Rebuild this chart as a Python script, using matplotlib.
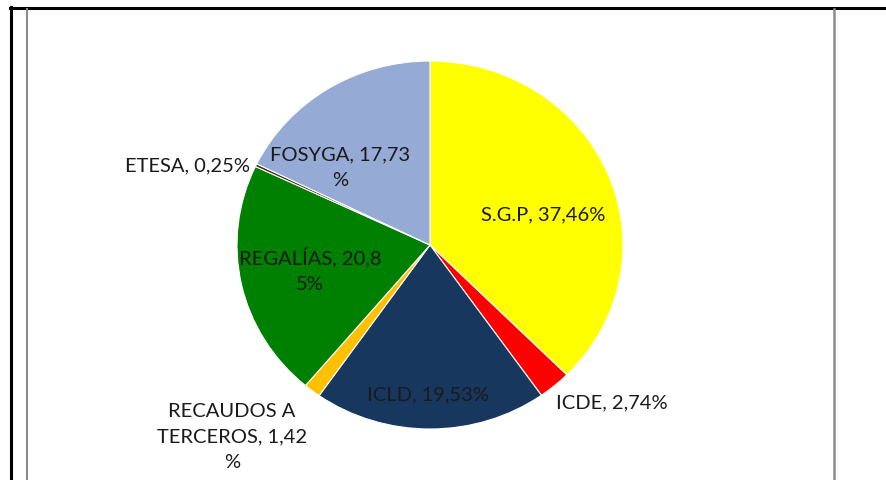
import matplotlib
matplotlib.use("Agg")
import matplotlib.pyplot as plt
from matplotlib.lines import Line2D

categories = ["S.G.P", "ICDE", "ICLD", "RECAUDOS A TERCEROS", "REGALÍAS", "ETESA", "FOSYGA"]
values = [37.46, 2.74, 19.53, 1.42, 20.85, 0.25, 17.73]
label_texts = ["S.G.P, 37,46%", "ICDE, 2,74%", "ICLD, 19,53%",
               "RECAUDOS A\nTERCEROS, 1,42\n%", "REGALÍAS, 20,8\n5%",
               "ETESA, 0,25%", "FOSYGA, 17,73\n%"]
colors = ["#FFFF00", "#FF0000", "#17375E", "#FFC000", "#008000", "#3F2A14", "#95AAD4"]
label_pos = [(0.585, 0.163), (0.943, -0.859), (-0.010, -0.815), (-1.026, -1.043),
             (-0.622, -0.136), (-1.259, 0.429), (-0.466, 0.418)]

W, H = 886, 480
fig = plt.figure(figsize=(W / 100, H / 100), dpi=100)
fig.patch.set_facecolor("white")

cx, cy, rx, ry = 430, 245, 193, 184
ax = fig.add_axes([(cx - rx) / W, (H - cy - ry) / H, 2 * rx / W, 2 * ry / H])
ax.pie(values, colors=colors, startangle=90, counterclock=False, radius=1,
       wedgeprops=dict(edgecolor="white", linewidth=0.8))
ax.set_aspect("auto")
ax.set_xlim(-1, 1)
ax.set_ylim(-1, 1)
ax.axis("off")

for txt, (x, y) in zip(label_texts, label_pos):
    ax.text(x, y, txt, ha="center", va="center", fontsize=14.5, family="Lato",
            color="#1a1a1a", linespacing=1.62, clip_on=False)

def px(x, y):
    return x / W, 1 - y / H

# frame lines
fig.add_artist(Line2D([px(10, 7.5)[0], 1], [px(10, 7.5)[1]] * 2, color="black", lw=2.2))
fig.add_artist(Line2D([px(11, 0)[0]] * 2, [px(0, 7)[1], 0], color="black", lw=2.2))
fig.add_artist(Line2D([px(27, 0)[0]] * 2, [px(0, 9)[1], 0], color="#8c8c8c", lw=1.5))
fig.add_artist(Line2D([px(833.5, 0)[0]] * 2, [px(0, 9)[1], 0], color="#8c8c8c", lw=1.8))

fig.savefig("out.png", dpi=100)
